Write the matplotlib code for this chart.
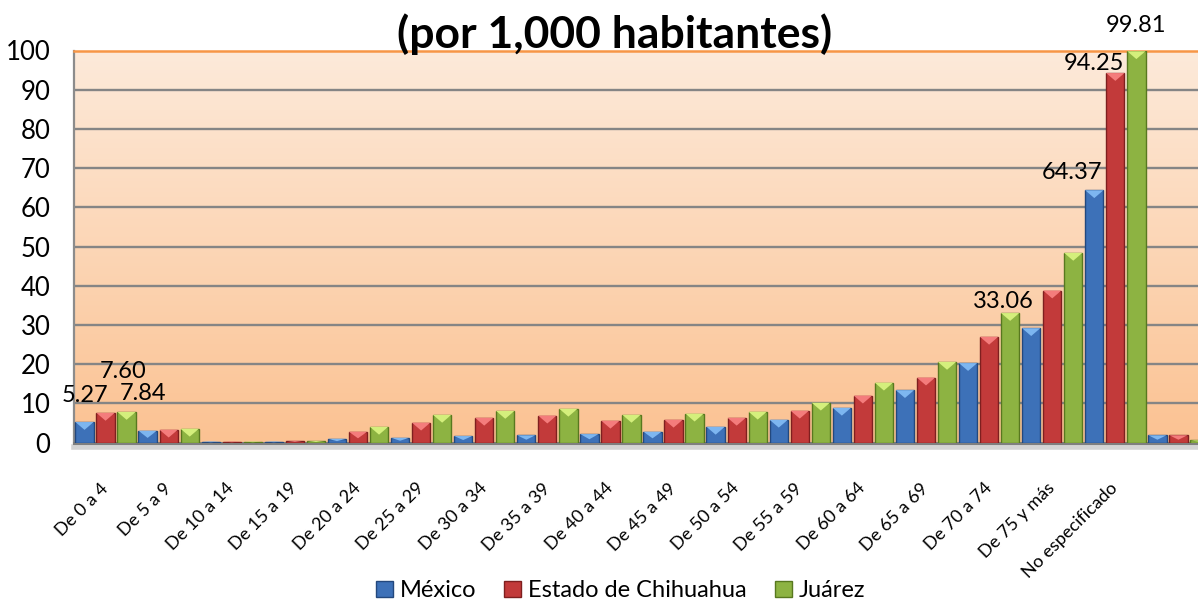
#!/usr/bin/env python3

import numpy as np
import matplotlib
matplotlib.use("Agg")
import matplotlib.pyplot as plt
from matplotlib.patches import Polygon, Patch

plt.rcParams['font.family'] = ['Lato', 'DejaVu Sans']

categories = ["De 0 a 4", "De 5 a 9", "De 10 a 14", "De 15 a 19", "De 20 a 24",
              "De 25 a 29", "De 30 a 34", "De 35 a 39", "De 40 a 44", "De 45 a 49",
              "De 50 a 54", "De 55 a 59", "De 60 a 64", "De 65 a 69", "De 70 a 74",
              "De 75 y más", "No especificado", ""]
mexico = [5.27, 3.05, 0.3, 0.3, 1.0, 1.25, 1.7, 1.9, 2.2, 2.8, 4.05, 5.85,
          8.9, 13.4, 20.3, 29.2, 64.37, 1.9]
chihuahua = [7.60, 3.3, 0.3, 0.5, 2.8, 5.1, 6.35, 6.9, 5.6, 5.85, 6.35, 8.15,
             12.0, 16.6, 27.0, 38.8, 94.25, 1.9]
juarez = [7.84, 3.55, 0.3, 0.45, 4.05, 7.1, 8.1, 8.65, 7.1, 7.4, 7.9, 10.2,
          15.3, 20.6, 33.06, 48.4, 99.81, 0.6]
series_names = ["México", "Estado de Chihuahua", "Juárez"]
yticks = [0, 10, 20, 30, 40, 50, 60, 70, 80, 90, 100]

# which bars carry a value label: (series index, category index, dx px, dy px)
labelled = [(0, 0, 0, 27), (1, 0, 18, 41), (2, 0, 16, 18), (2, 14, -7, 12),
            (0, 16, -22, 18), (1, 16, -21, 10), (2, 16, 0, 26)]

# face, light bevel, edge
palette = [("#3D71B8", "#7DB6F0", "#23487D"),
           ("#C23A3A", "#F47C7C", "#7E1F1F"),
           ("#8DB342", "#D4EF7C", "#58781F")]


def bevel_bars(ax, xs, hs, width, face, light, edge):
    ax.bar(xs, hs, width=width, color=face, edgecolor=edge, linewidth=1.0, zorder=3)
    for x, h in zip(xs, hs):
        d = min(2.0, 0.6 * h)
        tri = Polygon([(x - width / 2, h), (x + width / 2, h), (x, h - d)],
                      closed=True, facecolor=light, edgecolor='none', zorder=4)
        ax.add_patch(tri)


def main():
    fig = plt.figure(figsize=(11.98, 6.11), dpi=100)
    ax = fig.add_axes([74 / 1198, 1 - 442.7 / 611, 1136 / 1198, 392.2 / 611])

    n = len(categories)
    ax.set_xlim(-0.5, n - 0.5)
    ax.set_ylim(0, 100)

    # orange gradient plot area
    top = np.array([253, 234, 218]) / 255
    bot = np.array([251, 194, 146]) / 255
    t = np.linspace(0, 1, 256)[:, None]
    grad = (top * (1 - t) + bot * t)[:, None, :]
    ax.imshow(grad, extent=[-0.5, n - 0.5, 0, 100], aspect='auto', zorder=0)

    for y in yticks[1:-1]:
        ax.axhline(y, color='#858585', lw=1.7, zorder=1)

    x = np.arange(n)
    step = 1 / 3
    width = 0.29
    data = [mexico, chihuahua, juarez]
    for k, vals in enumerate(data):
        face, light, edge = palette[k]
        bevel_bars(ax, x + (k - 1) * step, vals, width, face, light, edge)

    for k, i, dx, dy in labelled:
        v = data[k][i]
        ax.annotate(f"{v:.2f}", (i + (k - 1) * step, v), xytext=(dx, dy),
                    textcoords='offset pixels', ha='center', va='center',
                    fontsize=17, zorder=6, annotation_clip=False)

    ax.set_yticks(yticks)
    ax.set_yticklabels([str(v) for v in yticks], fontsize=18.5)
    ax.set_xticks(x)
    ax.set_xticklabels(categories, fontsize=13)
    plt.setp(ax.get_xticklabels(), rotation=45, ha='right', va='center',
             rotation_mode='anchor')
    ax.tick_params(axis='y', length=0, pad=17)
    ax.tick_params(axis='x', length=0, pad=31)

    ax.spines['top'].set_color('#F79646')
    ax.spines['top'].set_linewidth(1.8)
    ax.spines['left'].set_color('#8C8C8C')
    ax.spines['left'].set_linewidth(1.6)
    ax.spines['bottom'].set_color('#7F7F7F')
    ax.spines['bottom'].set_linewidth(2.2)
    ax.spines['right'].set_visible(False)
    # soft floor shadow under the axis
    ax.plot([0, 1], [-0.012, -0.012], transform=ax.transAxes, color='#D4D4D4',
            lw=4, clip_on=False, zorder=2)

    fig.text(615 / 1198, 1 - 48 / 611, "(por 1,000 habitantes)", ha='center',
             va='baseline', fontsize=32, fontweight='bold')

    handles = [Patch(facecolor=palette[k][0], edgecolor=palette[k][2], label=series_names[k])
               for k in range(3)]
    fig.legend(handles=handles, loc='center', bbox_to_anchor=(0.518, 0.033), ncol=3,
               frameon=False, fontsize=17, handlelength=0.7, handleheight=0.7,
               handletextpad=0.3, columnspacing=1.2)

    fig.savefig("out.png", dpi=100)


if __name__ == '__main__':
    main()
